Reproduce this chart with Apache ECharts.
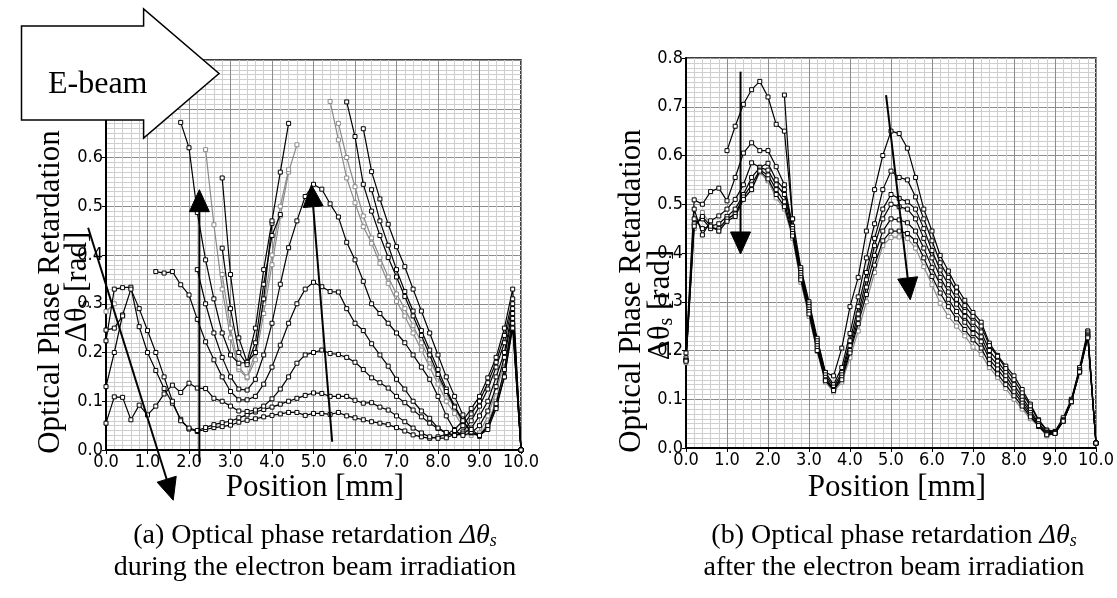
<!DOCTYPE html>
<html><head><meta charset="utf-8">
<script src="https://cdn.jsdelivr.net/npm/echarts@6/dist/echarts.min.js"></script>
<style>html,body{margin:0;padding:0;background:#fff;}#c{width:1117px;height:598px;}</style>
</head><body><div id="c"></div>
<script>
const n = null;
const positions = [0,0.2,0.4,0.6,0.8,1,1.2,1.4,1.6,1.8,2,2.2,2.4,2.6,2.8,3,3.2,3.4,3.6,3.8,4,4.2,4.4,4.6,4.8,5,5.2,5.4,5.6,5.8,6,6.2,6.4,6.6,6.8,7,7.2,7.4,7.6,7.8,8,8.2,8.4,8.6,8.8,9,9.2,9.4,9.6,9.8,10];
const xTickLabels = ['0.0','1.0','2.0','3.0','4.0','5.0','6.0','7.0','8.0','9.0','10.0'];
const yTickLabels = ['0.0','0.1','0.2','0.3','0.4','0.5','0.6','0.7','0.8'];

// (a) during irradiation
const aA = [0.224,0.33,0.333,0.334,0.253,0.2,0.163,0.126,0.096,0.063,
  0.043,0.038,0.042,0.046,0.048,0.051,0.057,0.061,0.064,0.068,
  0.071,0.074,0.077,0.077,0.071,0.075,0.075,0.073,0.077,0.07,
  0.066,0.062,0.058,0.055,0.052,0.046,0.039,0.031,0.027,0.024,
  0.027,0.032,0.042,0.06,0.085,0.11,0.148,0.19,0.25,0.33,0.0];
const aB = [0.13,0.2,0.277,0.33,0.29,0.245,0.2,0.15,0.1,0.06,
  0.045,0.04,0.046,0.052,0.056,0.059,0.066,0.072,0.078,0.083,
  0.088,0.094,0.1,0.106,0.112,0.117,0.116,0.11,0.11,0.11,
  0.102,0.096,0.097,0.088,0.082,0.07,0.058,0.045,0.035,0.027,
  0.024,0.025,0.032,0.05,0.074,0.1,0.138,0.18,0.235,0.31,0.0];
const aC = [0.055,0.109,0.108,0.062,0.092,0.072,0.09,0.115,0.133,0.118,
  0.137,0.127,0.126,0.106,0.1,0.09,0.08,0.079,0.082,0.09,
  0.105,0.125,0.15,0.178,0.195,0.2,0.205,0.198,0.196,0.19,
  0.18,0.165,0.148,0.138,0.127,0.11,0.097,0.082,0.068,0.055,
  0.044,0.034,0.03,0.037,0.06,0.09,0.125,0.17,0.22,0.3,0.0];
const aD = [0.246,0.25,0.275,n,n,n,0.366,0.363,0.366,0.339,
  0.318,0.268,0.222,0.185,0.15,0.12,0.103,0.103,0.11,0.135,
  0.17,0.215,0.26,0.3,0.33,0.344,0.335,0.325,0.324,0.29,
  0.26,0.245,0.218,0.195,0.172,0.145,0.125,0.1,0.08,0.065,
  0.045,0.036,0.03,0.033,0.045,0.07,0.1,0.15,0.2,0.29,0.0];
const aE = [n,n,n,n,n,n,n,n,n,n,
  n,0.37,0.3,0.24,0.19,0.15,0.125,0.123,0.145,0.195,
  0.26,0.34,0.415,0.47,0.52,0.545,0.535,0.505,0.478,0.426,
  0.39,0.346,0.3,0.28,0.26,0.24,0.22,0.195,0.17,0.145,
  0.11,0.07,0.04,0.03,0.035,0.05,0.08,0.13,0.19,0.28,0.0];
const aF = [n,n,n,n,n,n,n,n,n,n,
  n,n,n,n,0.558,0.36,0.23,0.18,0.2,0.31,
  0.465,n,n,n,n,n,n,n,n,n,
  n,n,0.534,0.47,0.42,0.37,0.325,0.285,0.245,0.205,
  0.165,0.125,0.09,0.06,0.036,0.028,0.048,0.09,0.15,0.25,0.0];
const aG = [n,n,n,n,n,n,n,n,n,n,
  n,n,0.616,0.462,0.33,0.23,0.165,0.148,0.185,0.28,
  0.38,0.48,0.57,0.626,n,n,n,n,0.67,0.6,
  0.54,0.48,0.435,0.395,0.355,0.32,0.29,0.255,0.22,0.185,
  0.15,0.115,0.085,0.055,0.035,0.03,0.055,0.1,0.16,0.255,0.0];
const aH = [0.284,0.3,n,n,n,n,n,n,n,n,
  n,n,n,n,0.36,0.25,0.17,0.15,0.2,0.3,
  0.4,0.5,0.575,n,n,n,n,0.715,0.636,0.558,
  0.507,0.458,0.424,0.383,0.342,0.305,0.275,0.24,0.205,0.17,
  0.135,0.1,0.075,0.048,0.03,0.035,0.07,0.12,0.18,0.26,0.0];
const aI = [n,n,n,n,n,n,n,n,n,0.672,
  0.62,0.487,0.39,0.31,0.24,0.195,0.178,0.18,0.25,0.37,
  0.47,0.57,0.67,n,n,n,n,n,n,0.714,
  0.643,0.545,0.49,0.44,0.395,0.355,0.315,0.275,0.235,0.195,
  0.155,0.12,0.088,0.06,0.037,0.03,0.05,0.095,0.165,0.27,0.0];
const aJ = [n,n,n,n,n,n,n,n,n,n,
  n,n,n,n,0.414,0.29,0.2,0.175,0.22,0.34,
  0.44,0.483,n,n,n,n,n,n,n,n,
  n,0.659,0.571,0.515,0.463,0.417,0.376,0.33,0.285,0.24,
  0.195,0.15,0.11,0.072,0.042,0.03,0.042,0.085,0.15,0.26,0.0];

// (b) after irradiation
const bR1 = [n,n,n,n,n,0.61,0.66,0.705,0.735,0.752,
  0.72,0.664,0.65,0.47,0.37,0.3,0.225,0.155,0.148,0.205,
  0.29,0.35,0.445,0.53,0.6,0.65,0.645,0.615,0.555,0.49,
  0.445,0.395,0.363,0.33,0.303,0.278,0.258,0.215,0.19,0.168,
  0.148,0.12,0.09,0.058,0.037,0.034,0.062,0.1,0.165,0.24,0.01];
const bR2 = [0.195,0.509,0.5,0.526,0.533,0.507,0.555,0.605,0.626,0.61,
  0.61,0.577,0.54,0.455,0.365,0.295,0.22,0.155,0.13,0.165,
  0.235,0.31,0.39,0.46,0.53,0.568,0.555,0.55,0.515,0.47,
  0.425,0.38,0.35,0.32,0.292,0.27,0.25,0.21,0.188,0.163,
  0.14,0.113,0.086,0.056,0.035,0.032,0.058,0.098,0.16,0.236,0.01];
const bR3 = [0.185,0.49,0.437,0.466,0.476,0.49,0.51,0.54,0.585,0.576,
  0.584,0.55,0.53,0.45,0.36,0.29,0.215,0.15,0.125,0.155,
  0.22,0.29,0.36,0.43,0.49,0.52,0.512,0.505,0.49,0.45,
  0.405,0.365,0.335,0.305,0.28,0.258,0.238,0.2,0.178,0.155,
  0.13,0.105,0.078,0.05,0.032,0.031,0.056,0.097,0.16,0.232,0.01];
const bR4 = [0.18,0.47,0.45,0.455,0.46,0.475,0.49,0.52,0.555,0.575,
  0.57,0.54,0.52,0.445,0.355,0.285,0.21,0.145,0.12,0.15,
  0.21,0.275,0.345,0.415,0.47,0.5,0.495,0.49,0.47,0.43,
  0.39,0.35,0.32,0.295,0.27,0.245,0.228,0.19,0.17,0.148,
  0.122,0.098,0.073,0.047,0.03,0.03,0.055,0.095,0.157,0.23,0.01];
const bR5 = [0.18,0.46,0.47,0.45,0.45,0.47,0.48,0.515,0.54,0.57,
  0.56,0.53,0.505,0.44,0.35,0.28,0.205,0.14,0.12,0.145,
  0.2,0.265,0.33,0.395,0.445,0.47,0.468,0.462,0.445,0.41,
  0.37,0.335,0.305,0.28,0.258,0.235,0.218,0.182,0.162,0.14,
  0.115,0.092,0.068,0.044,0.028,0.03,0.055,0.095,0.156,0.228,0.01];
const bR6 = [0.178,0.455,0.475,0.455,0.445,0.465,0.475,0.51,0.53,0.568,
  0.552,0.52,0.495,0.435,0.345,0.275,0.2,0.138,0.118,0.14,
  0.195,0.255,0.315,0.375,0.425,0.445,0.445,0.44,0.425,0.39,
  0.352,0.318,0.29,0.265,0.243,0.222,0.205,0.173,0.152,0.13,
  0.107,0.086,0.064,0.046,0.027,0.03,0.055,0.095,0.156,0.226,0.01];
const bR7 = [0.175,0.45,0.483,0.46,0.444,0.468,0.48,0.515,0.53,0.565,
  0.548,0.513,0.49,0.43,0.34,0.27,0.198,0.135,0.115,0.135,
  0.185,0.24,0.3,0.36,0.415,0.432,0.433,0.43,0.41,0.372,
  0.335,0.297,0.27,0.25,0.23,0.207,0.192,0.165,0.145,0.122,
  0.1,0.08,0.06,0.045,0.025,0.03,0.055,0.095,0.155,0.24,0.01];
const bFragment = [[2.4,0.724],[2.6,0.47]];

// annotation arrows, in data coordinates [position, retardation]
const arrowsA = [
  {from:[-0.43,0.456], to:[1.62,-0.103]},
  {from:[2.25,-0.025], to:[2.25,0.534]},
  {from:[5.45,0.017], to:[4.95,0.544]}
];
const arrowsB = [
  {from:[1.33,0.772], to:[1.33,0.398]},
  {from:[4.88,0.724], to:[5.47,0.304]}
];

const BLACK = '#000';
const GRAY = '#8a8a8a';
const SERIF = '"Liberation Serif","Times New Roman",serif';
const SANS = '"Liberation Sans Narrow","DejaVu Sans Condensed","DejaVu Sans",sans-serif';

function pairs(ys){ return positions.map((x,i)=>[x, ys[i]===null ? '-' : ys[i]]); }
function mk(ys, color, gi){
  return {type:'line', xAxisIndex:gi, yAxisIndex:gi, data: Array.isArray(ys[0]) ? ys : pairs(ys),
    symbol:'rect', symbolSize:4, showAllSymbol:true, animation:false,
    lineStyle:{color:color, width:1.2}, itemStyle:{color:'#fff', borderColor:color, borderWidth:1},
    emphasis:{disabled:true}, z: color===GRAY ? 2 : 3};
}
function xAx(gi){
  return {gridIndex:gi, type:'value', min:0, max:10, interval:1,
    axisLine:{show:true, onZero:false, lineStyle:{color:'#000', width:2}},
    axisTick:{show:true, length:4, lineStyle:{color:'#000'}},
    axisLabel:{color:'#000', fontSize:18, fontFamily:SANS, margin:3, formatter:v=>xTickLabels[Math.round(v)]},
    splitLine:{show:true, lineStyle:{color:'#8c8c8c', width:1}},
    minorTick:{show:false, splitNumber:5},
    minorSplitLine:{show:true, lineStyle:{color:'#cfcfcf', width:1}}};
}
function yAx(gi){
  return {gridIndex:gi, type:'value', min:0, max:0.8, interval:0.1,
    axisLine:{show:true, onZero:false, lineStyle:{color:'#000', width:2}},
    axisTick:{show:true, length:4, lineStyle:{color:'#000'}},
    axisLabel:{color:'#000', fontSize:18, fontFamily:SANS, margin:3, formatter:v=>yTickLabels[Math.round(v*10)]},
    splitLine:{show:true, lineStyle:{color:'#8c8c8c', width:1}},
    minorTick:{show:false, splitNumber:10},
    minorSplitLine:{show:true, lineStyle:{color:'#cfcfcf', width:1}}};
}

const chart = echarts.init(document.getElementById('c'), null, {renderer:'canvas'});
const series = [
  mk(aG,GRAY,0), mk(aH,GRAY,0),
  mk(aA,BLACK,0), mk(aB,BLACK,0), mk(aC,BLACK,0), mk(aD,BLACK,0), mk(aE,BLACK,0),
  mk(aF,BLACK,0), mk(aI,BLACK,0), mk(aJ,BLACK,0),
  mk(bR7,GRAY,1),
  mk(bR1,BLACK,1), mk(bR2,BLACK,1), mk(bR3,BLACK,1), mk(bR4,BLACK,1), mk(bR5,BLACK,1), mk(bR6,BLACK,1),
  mk(bFragment,BLACK,1)
];
chart.setOption({
  backgroundColor:'#fff',
  animation:false,
  grid:[
    {left:106, top:60, width:415, height:390, show:true, borderColor:'#000', borderWidth:1.5},
    {left:686, top:58, width:411, height:390, show:true, borderColor:'#000', borderWidth:1.5}
  ],
  xAxis:[xAx(0), xAx(1)],
  yAxis:[yAx(0), yAx(1)],
  series: series
});

function arrowEls(list, gi){
  const els = [];
  list.forEach(a=>{
    const p0 = chart.convertToPixel({gridIndex:gi}, a.from);
    const p1 = chart.convertToPixel({gridIndex:gi}, a.to);
    const dx = p1[0]-p0[0], dy = p1[1]-p0[1];
    const L = Math.sqrt(dx*dx+dy*dy);
    const ux = dx/L, uy = dy/L;
    const hl = 22, hw = 10;
    const bx = p1[0]-ux*hl, by = p1[1]-uy*hl;
    els.push({type:'line', z:50, shape:{x1:p0[0], y1:p0[1], x2:bx, y2:by}, style:{stroke:'#000', lineWidth:2}});
    els.push({type:'polygon', z:50, shape:{points:[[p1[0],p1[1]],[bx-uy*hw, by+ux*hw],[bx+uy*hw, by-ux*hw]]}, style:{fill:'#000', stroke:'#000'}});
  });
  return els;
}

const titleFont = 31;
const capFont = 28;
function ytitle(cx1, cx2, cy1, cy2){
  return [
    {type:'text', x:cx1, y:cy1, rotation:Math.PI/2, z:20,
      style:{text:'Optical Phase Retardation', fontFamily:SERIF, fontSize:titleFont, fill:'#000', align:'center', verticalAlign:'middle'}},
    {type:'text', x:cx2, y:cy2, rotation:Math.PI/2, z:20,
      style:{text:'Δθ{s|s} [rad]', fontFamily:SERIF, fontSize:titleFont, fill:'#000', align:'center', verticalAlign:'middle',
        rich:{s:{fontFamily:SERIF, fontSize:20, verticalAlign:'bottom', lineHeight:20}}}}
  ];
}
function xtitle(cx){
  return {type:'text', x:cx, y:488, z:20,
    style:{text:'Position [mm]', fontFamily:SERIF, fontSize:titleFont, fill:'#000', align:'center', verticalAlign:'middle'}};
}
function caption(cx, letter, line2){
  return [
    {type:'text', x:cx, y:536, z:20,
      style:{text:'('+letter+') Optical phase retardation {i|Δθ}{s|s}', fontFamily:SERIF, fontSize:capFont, fill:'#000', align:'center', verticalAlign:'middle',
        rich:{i:{fontFamily:SERIF, fontSize:capFont, fontStyle:'italic'}, s:{fontFamily:SERIF, fontSize:18, fontStyle:'italic', verticalAlign:'bottom', lineHeight:18}}}},
    {type:'text', x:cx, y:568, z:20,
      style:{text:line2, fontFamily:SERIF, fontSize:capFont, fill:'#000', align:'center', verticalAlign:'middle'}}
  ];
}

const ebeam = [
  {type:'polygon', z:80, shape:{points:[[21.5,26],[143.6,26],[143.6,9],[219,73.5],[143.6,138],[143.6,120],[21.5,120]]},
    style:{fill:'#fff', stroke:'#000', lineWidth:1.5}},
  {type:'text', x:48, y:85, z:81, style:{text:'E-beam', fontFamily:SERIF, fontSize:32, fill:'#000', align:'left', verticalAlign:'middle'}}
];

const gfx = [].concat(
  ytitle(51, 78, 292, 287),
  ytitle(632, 661, 291, 305),
  [xtitle(315), xtitle(897)],
  caption(315, 'a', 'during the electron beam irradiation'),
  caption(894, 'b', 'after the electron beam irradiation'),
  arrowEls(arrowsA, 0),
  arrowEls(arrowsB, 1),
  ebeam
);
chart.setOption({graphic: gfx});
</script>
</body></html>
